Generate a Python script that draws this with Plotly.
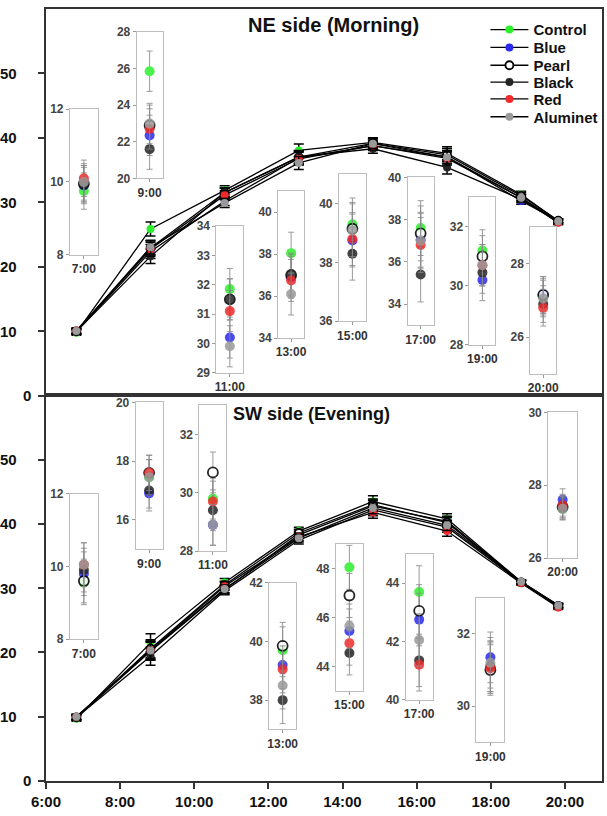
import plotly.graph_objects as go

# ---------------- data ----------------
HOURS = [7, 9, 11, 13, 15, 17, 19, 20]
HOUR_LABELS = ["7:00", "9:00", "11:00", "13:00", "15:00", "17:00", "19:00", "20:00"]
SERIES = ["Control", "Blue", "Pearl", "Black", "Red", "Aluminet"]
X_TICKS = [6, 8, 10, 12, 14, 16, 18, 20]
X_TICK_LABELS = ["6:00", "8:00", "10:00", "12:00", "14:00", "16:00", "18:00", "20:00"]
Y_TICKS = [0, 10, 20, 30, 40, 50]

# NE side (Morning) - main lines and insets
NE_CONTROL = [9.75, 25.85, 31.85, 38.05, 39.3, 37.6, 31.2, 27.1]
NE_BLUE = [9.9, 22.35, 30.2, 36.9, 38.75, 37.05, 30.2, 27.15]
NE_PEARL = [9.95, 22.9, 31.5, 37.0, 39.15, 37.35, 31.0, 27.15]
NE_BLACK = [9.95, 21.6, 31.5, 37.05, 38.3, 35.4, 30.45, 26.9]
NE_RED = [10.1, 22.7, 31.1, 36.75, 38.8, 36.8, 30.7, 26.8]
NE_ALUMINET = [10.0, 23.0, 29.9, 36.1, 39.1, 37.0, 30.7, 27.05]
NE_MAIN_ERR = [0.4, 1.1, 0.7, 1.0, 0.7, 1.0, 0.5, 0.3]
NE_INSET_ERR = [0.5, 1.1, 0.7, 1.0, 0.9, 1.3, 0.7, 0.5]

# SW side (Evening) - main lines
SW_MAIN_CONTROL = [9.7, 21.5, 30.9, 38.9, 43.5, 40.8, 31.0, 27.3]
SW_MAIN_BLUE = [9.9, 20.2, 29.8, 38.3, 42.8, 40.4, 31.0, 27.4]
SW_MAIN_PEARL = [9.9, 20.6, 30.5, 38.6, 43.0, 40.2, 30.9, 27.2]
SW_MAIN_BLACK = [9.9, 19.4, 29.6, 37.5, 42.2, 39.5, 30.9, 27.2]
SW_MAIN_RED = [10.0, 20.4, 30.3, 38.0, 41.8, 38.9, 30.8, 27.0]
SW_MAIN_ALUMINET = [10.0, 20.3, 29.9, 37.8, 42.5, 39.8, 31.0, 27.3]
SW_MAIN_ERR = [0.4, 1.4, 0.6, 0.6, 0.9, 0.8, 0.3, 0.3]

# SW side (Evening) - insets
SW_CONTROL = [9.55, 17.45, 29.8, 39.7, 48.05, 43.7, 31.1, 27.35]
SW_BLUE = [9.8, 16.9, 28.9, 39.2, 45.45, 42.75, 31.35, 27.6]
SW_PEARL = [9.6, 17.6, 30.7, 39.85, 46.9, 43.05, 31.0, 27.4]
SW_BLACK = [9.9, 17.0, 29.4, 38.0, 44.55, 41.35, 31.1, 27.4]
SW_RED = [10.05, 17.6, 29.7, 39.05, 44.95, 41.2, 31.05, 27.45]
SW_ALUMINET = [10.05, 17.45, 28.9, 38.5, 45.65, 42.05, 31.2, 27.35]
SW_INSET_ERR = [0.6, 0.6, 0.7, 0.8, 0.9, 0.9, 0.7, 0.3]

NE_SERIES = [NE_CONTROL, NE_BLUE, NE_PEARL, NE_BLACK, NE_RED, NE_ALUMINET]
SW_MAIN_SERIES = [SW_MAIN_CONTROL, SW_MAIN_BLUE, SW_MAIN_PEARL, SW_MAIN_BLACK, SW_MAIN_RED, SW_MAIN_ALUMINET]
SW_SERIES = [SW_CONTROL, SW_BLUE, SW_PEARL, SW_BLACK, SW_RED, SW_ALUMINET]

# ---------------- styling ----------------
FONT = "Liberation Sans, Arial, sans-serif"
COLORS = {"Control": "#2cf02c", "Blue": "#2a2af0", "Pearl": "#ffffff",
          "Black": "#252525", "Red": "#f02a2a", "Aluminet": "#9a9a9a"}
X_SHIFT = -0.18  # points sit slightly left of the hour ticks

W, H = 607, 816
ML, MR, MT, MB = 46, 3, 2, 35
PW = W - ML - MR
PH = H - MT - MB


def px(p):
    return (p - ML) / PW


def py(q):
    return (H - MB - q) / PH


SPLIT = py(392)
LEGEND_ROWS = [23, 41, 59, 76, 93, 111]  # pixel centres of the legend rows

fig = go.Figure()


def marker_for(name, size):
    if name == "Pearl":
        return dict(size=size, color="white", line=dict(color="black", width=1.8))
    return dict(size=size, color=COLORS[name], line=dict(width=0))


legend_keys = ["legend"] + [f"legend{i}" for i in range(2, 7)]

# main lines
xs = [h + X_SHIFT for h in HOURS]
for panel, (series_list, err, xa, ya) in enumerate([
        (NE_SERIES, NE_MAIN_ERR, "x", "y"),
        (SW_MAIN_SERIES, SW_MAIN_ERR, "x2", "y2")]):
    for i, (name, vals) in enumerate(zip(SERIES, series_list)):
        fig.add_trace(go.Scatter(
            x=xs, y=vals, mode="lines+markers", name=name,
            xaxis=xa, yaxis=ya, showlegend=(panel == 0), legend=legend_keys[i],
            line=dict(color="black", width=1.3),
            marker=marker_for(name, 8),
            error_y=dict(type="data", array=err, color="black", thickness=1.5, width=5),
        ))

# insets: (x0, x1, ytop, ybot, range, tickvals) in pixels
NE_BOXES = [
    (70, 98, 103, 250, [8, 12], [8, 10, 12]),
    (137, 163, 25, 173, [20, 28], [20, 22, 24, 26, 28]),
    (217, 244, 221, 369, [29, 34], [29, 30, 31, 32, 33, 34]),
    (279, 305, 186, 334, [34, 41], [34, 36, 38, 40]),
    (340, 367, 169, 317, [36, 41], [36, 38, 40]),
    (409, 435, 172, 321, [33, 40], [34, 36, 38, 40]),
    (471, 497, 192, 341, [28, 33], [28, 30, 32]),
    (532, 558, 222, 370, [25, 29], [26, 28]),
]
SW_BOXES = [
    (70, 98, 491, 638, [8, 12], [8, 10, 12]),
    (136, 163, 399, 547, [15, 20], [16, 18, 20]),
    (200, 227, 402, 549, [28, 33], [28, 30, 32]),
    (270, 297, 581, 729, [37, 42], [38, 40, 42]),
    (337, 364, 542, 690, [43, 49], [44, 46, 48]),
    (407, 434, 552, 699, [40, 45], [40, 42, 44]),
    (478, 506, 596, 742, [29, 33], [30, 32]),
    (550, 579, 409, 556, [26, 30], [26, 28, 30]),
]

layout_axes = {}
n = 3
for series_list, errs, boxes in [(NE_SERIES, NE_INSET_ERR, NE_BOXES),
                                 (SW_SERIES, SW_INSET_ERR, SW_BOXES)]:
    for t, (x0, x1, yt, yb, yr, tv) in enumerate(boxes):
        for name, vals in zip(SERIES, series_list):
            fig.add_trace(go.Scatter(
                x=[0], y=[vals[t]], mode="markers", showlegend=False,
                xaxis=f"x{n}", yaxis=f"y{n}", opacity=0.85,
                marker=marker_for(name, 10),
                error_y=dict(type="data", array=[errs[t]], color="#8a8a8a", thickness=1, width=3),
            ))
        layout_axes[f"xaxis{n}"] = dict(
            domain=[px(x0), px(x1)], anchor=f"y{n}", range=[-1, 1],
            showline=True, mirror=True, linecolor="#bdbdbd", linewidth=1,
            tickvals=[0], ticktext=[HOUR_LABELS[t]], ticks="outside", ticklen=3,
            tickcolor="#999", showgrid=False, zeroline=False,
            tickfont=dict(family=FONT, size=12, color="#333", weight="bold"))
        layout_axes[f"yaxis{n}"] = dict(
            domain=[py(yb), py(yt)], anchor=f"x{n}", range=yr, tickvals=tv,
            showline=True, mirror=True, linecolor="#bdbdbd", linewidth=1,
            ticks="outside", ticklen=3, tickcolor="#999", showgrid=False, zeroline=False,
            tickfont=dict(family=FONT, size=12, color="#444", weight="bold"))
        n += 1

main_axis = dict(showline=True, mirror=True, linecolor="#333", linewidth=2,
                 showgrid=False, zeroline=False)

legends = {}
for key, row in zip(legend_keys, LEGEND_ROWS):
    legends[key] = dict(x=px(487), y=py(row), xanchor="left", yanchor="middle",
                        bgcolor="rgba(0,0,0,0)", borderwidth=0, itemwidth=38,
                        font=dict(family=FONT, size=15, color="#111", weight="bold"))

fig.update_layout(
    width=W, height=H,
    margin=dict(l=ML, r=MR, t=MT, b=MB),
    paper_bgcolor="white", plot_bgcolor="white",
    font=dict(family=FONT, color="#111"),
    xaxis=dict(domain=[0, 1], anchor="y", range=[6, 21], showticklabels=False,
               ticks="", **main_axis),
    yaxis=dict(domain=[SPLIT, 1], anchor="x", range=[0, 60], tickvals=Y_TICKS,
               showticklabels=False, ticks="outside", ticklen=6, tickwidth=1.5,
               tickcolor="#333", **main_axis),
    xaxis2=dict(domain=[0, 1], anchor="y2", range=[6, 21], tickvals=X_TICKS,
                ticktext=X_TICK_LABELS, ticks="outside", ticklen=6, tickwidth=1.5,
                tickcolor="#333",
                tickfont=dict(family=FONT, size=15, color="#111", weight="bold"),
                **main_axis),
    yaxis2=dict(domain=[0, SPLIT], anchor="x2", range=[0, 60], tickvals=Y_TICKS,
                showticklabels=False, ticks="outside", ticklen=6, tickwidth=1.5,
                tickcolor="#333", **main_axis),
    **legends,
    **layout_axes,
)

annotations = [
    dict(text="NE side (Morning)", x=px(335), y=py(18), xref="paper", yref="paper",
         showarrow=False, xanchor="center", yanchor="middle",
         font=dict(family=FONT, size=20, color="#111", weight="bold")),
    dict(text="SW side (Evening)", x=px(312), y=py(411), xref="paper", yref="paper",
         showarrow=False, xanchor="center", yanchor="middle",
         font=dict(family=FONT, size=18, color="#111", weight="bold")),
]
for yref in ["y", "y2"]:
    for v in Y_TICKS:
        xr = px(33) if v == 0 else px(19)
        annotations.append(dict(
            text=str(v), x=xr, y=v, xref="paper", yref=yref, showarrow=False,
            xanchor="right", yanchor="middle",
            font=dict(family=FONT, size=15, color="#111", weight="bold")))
fig.update_layout(annotations=annotations)

fig.write_html("out.html")
